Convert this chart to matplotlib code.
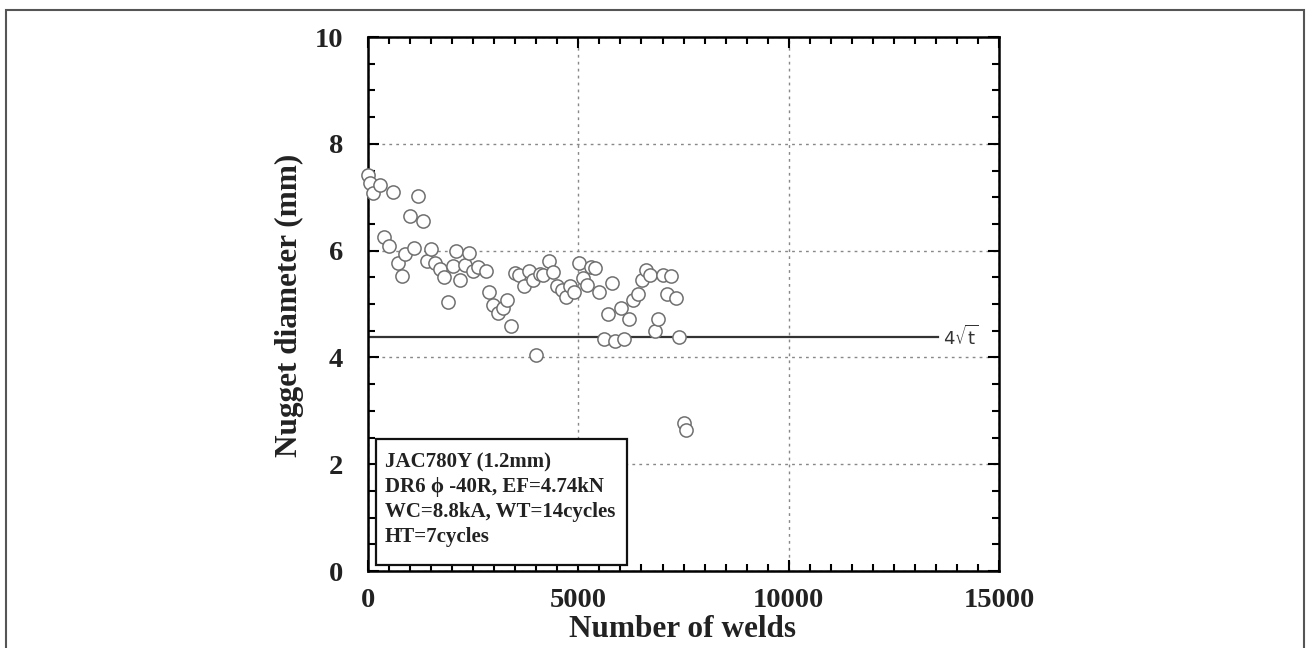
import numpy as np
import matplotlib
matplotlib.use("Agg")
import matplotlib.pyplot as plt
from matplotlib.patches import Rectangle

# --- data ---
welds = [0, 50, 110, 285, 388, 507, 600, 705, 800, 880, 998, 1100, 1195, 1298,
         1394, 1505, 1600, 1710, 1810, 1900, 2011, 2090, 2195, 2304, 2406, 2490,
         2610, 2800, 2882, 2977, 3096, 3199, 3310, 3389, 3492, 3600, 3710, 3815,
         3920, 3990, 4090, 4170, 4290, 4402, 4490, 4600, 4710, 4806, 4885, 5019,
         5099, 5200, 5300, 5392, 5494, 5600, 5709, 5788, 5880, 6010, 6085, 6207,
         6287, 6406, 6501, 6603, 6714, 6817, 6896, 7000, 7095, 7190, 7316, 7395,
         7506, 7553]
nugget = [7.42, 7.26, 7.08, 7.23, 6.26, 6.09, 7.09, 5.76, 5.53, 5.94, 6.65, 6.04,
          7.03, 6.55, 5.81, 6.03, 5.76, 5.65, 5.51, 5.04, 5.71, 6.00, 5.45, 5.73,
          5.95, 5.61, 5.70, 5.62, 5.23, 4.98, 4.83, 4.92, 5.07, 4.59, 5.58, 5.55,
          5.33, 5.61, 5.45, 4.04, 5.56, 5.54, 5.81, 5.60, 5.33, 5.26, 5.13, 5.33,
          5.23, 5.77, 5.49, 5.36, 5.70, 5.67, 5.23, 4.35, 4.81, 5.39, 4.31, 4.92,
          4.34, 4.71, 5.07, 5.19, 5.45, 5.64, 5.54, 4.50, 4.71, 5.54, 5.19, 5.52,
          5.12, 4.38, 2.77, 2.65]

THICKNESS = 1.2          # sheet thickness t (mm)
LIMIT_END = 13540        # where the 4*sqrt(t) line stops
info_lines = ["JAC780Y (1.2mm)",
              "DR6 \u03d5 -40R, EF=4.74kN",
              "WC=8.8kA, WT=14cycles",
              "HT=7cycles"]

serif = ["Liberation Serif", "DejaVu Serif"]

fig = plt.figure(figsize=(13.07, 6.48), dpi=100)
ax = fig.add_axes([0.2816, 0.1188, 0.4828, 0.8241])

# outer frame of the figure (bottom edge is cut off)
fig.add_artist(Rectangle((6 / 1307, -0.05), 1298 / 1307, 1.05 - 10 / 648,
                         transform=fig.transFigure, fill=False,
                         edgecolor="#555555", linewidth=1.5))

ax.grid(True, which="major", linestyle=(0, (2, 3)), color="#888888", linewidth=1.0)
ax.set_axisbelow(True)

limit = 4 * np.sqrt(THICKNESS)
ax.plot([0, LIMIT_END], [limit, limit], color="#333333", linewidth=1.6)
ax.text(LIMIT_END + 120, limit, r"4$\sqrt{\mathrm{t}}$", fontsize=13, va="center",
        ha="left", color="#333333")

ax.plot(welds, nugget, linestyle="none", marker="o", markersize=9.5,
        markerfacecolor="white", markeredgecolor="#707070", markeredgewidth=1.1,
        clip_on=False, zorder=3)

ax.set_xlim(0, 15000)
ax.set_ylim(0, 10)
ax.set_xticks([0, 5000, 10000, 15000])
ax.set_yticks([0, 2, 4, 6, 8, 10])
ax.set_xticks(np.arange(0, 15001, 500), minor=True)
ax.set_yticks(np.arange(0, 10.01, 0.5), minor=True)
ax.tick_params(which="both", direction="in", top=True, right=True, width=1.5)
ax.tick_params(which="major", length=8)
ax.tick_params(which="minor", length=5)
ax.tick_params(axis="y", which="major", pad=18)
ax.tick_params(axis="x", which="major", pad=12)
for s in ax.spines.values():
    s.set_linewidth(1.8)

for lab in ax.get_xticklabels() + ax.get_yticklabels():
    lab.set_fontfamily(serif)
    lab.set_fontweight("bold")
    lab.set_fontsize(20.5)
    lab.set_color("#222222")

ax.set_xlabel("Number of welds", fontsize=22.5, fontweight="bold",
              family=serif, color="#222222")
ax.set_ylabel("Nugget diameter (mm)", fontsize=22.5, fontweight="bold",
              family=serif, color="#222222")
ax.xaxis.label.set_va("center")
ax.yaxis.label.set_va("center")
ax.xaxis.set_label_coords(0.499, -0.11)
ax.yaxis.set_label_coords(-0.124, 0.498)

# condition box
ax.add_patch(Rectangle((0.0127, 0.011), 0.3973, 0.236, transform=ax.transAxes,
                       fill=True, facecolor="white", edgecolor="#111111",
                       linewidth=1.6, zorder=4))
ys = [0.204, 0.157, 0.110, 0.064]
for txt, yy in zip(info_lines, ys):
    ax.text(0.027, yy, txt, transform=ax.transAxes, fontsize=15,
            fontweight="bold", family=serif, va="center", ha="left",
            color="#222222", zorder=5)

fig.savefig("out.png", dpi=100)
